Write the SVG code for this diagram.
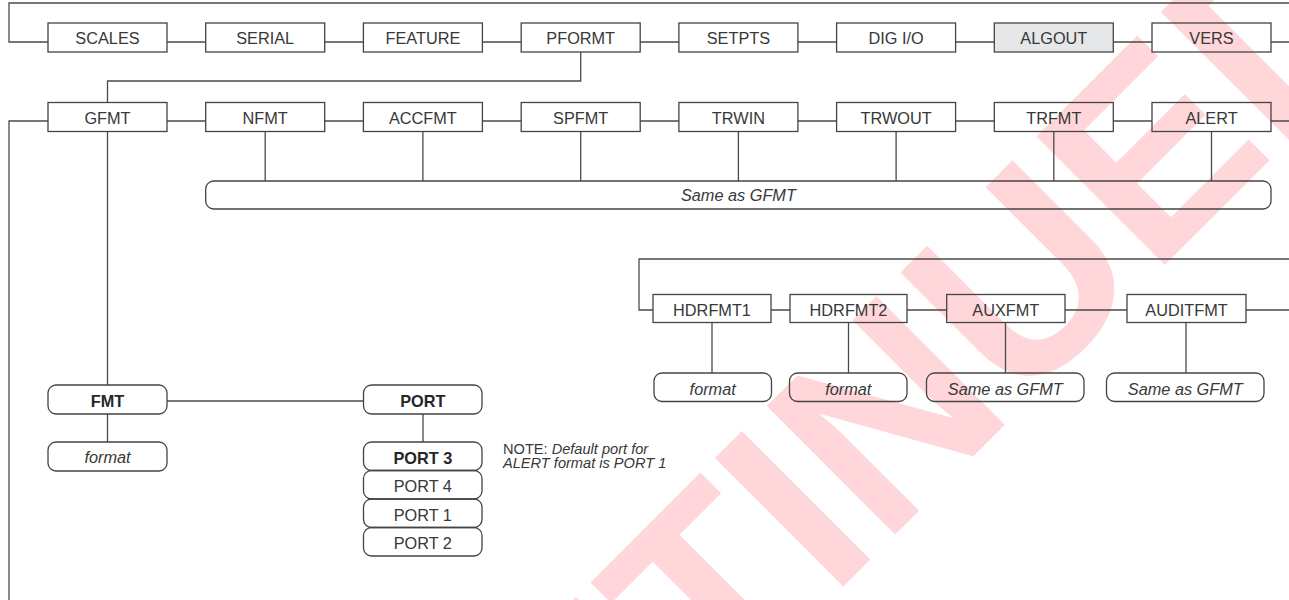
<svg xmlns="http://www.w3.org/2000/svg" width="1289" height="600" viewBox="0 0 1289 600">
<style>
.bg{fill:#fff}
.box{fill:none;stroke:#444;stroke-width:1.3}
.gray{fill:#e6e7e8;stroke:#444;stroke-width:1.3}
.ln{fill:none;stroke:#4a4a4a;stroke-width:1.3}
.t{font-family:"Liberation Sans",Arial,sans-serif;font-size:16.3px;fill:#383838;text-anchor:middle}
.i{font-style:italic}
.b{font-weight:bold;fill:#262626}
.note{font-family:"Liberation Sans",Arial,sans-serif;font-size:14.6px;fill:#383838}
.wm{font-family:"Liberation Sans",Arial,sans-serif;font-weight:bold;font-size:264px;fill:#ffd6d9}
</style>
<rect class="bg" x="0" y="0" width="1289" height="600"/>
<text class="wm" text-anchor="middle" transform="translate(701.2,728.5) rotate(-45)">DISCONTINUED</text>
<g id="connectors">
<path class="ln" d="M48,42 H9 V3 H1289"/>
<path class="ln" d="M167,42 H205.7 M324.7,42 H363.4 M482.4,42 H521.2 M640.2,42 H678.9 M797.9,42 H836.6 M955.6,42 H994.3 M1113.3,42 H1152 M1271,42 H1289"/>
<path class="ln" d="M580.7,52 V81 H107.5 V102.5"/>
<path class="ln" d="M48,121 H9 V600"/>
<path class="ln" d="M167,121 H205.7 M324.7,121 H363.4 M482.4,121 H521.2 M640.2,121 H678.9 M797.9,121 H836.6 M955.6,121 H994.3 M1113.3,121 H1152 M1271,121 H1289"/>
<path class="ln" d="M265.2,131.5 V181 M422.9,131.5 V181 M580.7,131.5 V181 M738.4,131.5 V181 M896.1,131.5 V181 M1053.8,131.5 V181 M1211.5,131.5 V181"/>
<path class="ln" d="M107.5,131.5 V385"/>
<path class="ln" d="M1289,259 H639 V310 H653"/>
<path class="ln" d="M771,310 H790 M907,310 H946.7 M1065,310 H1127 M1246,310 H1289"/>
<path class="ln" d="M712,323 V373 M848.5,323 V373 M1005.5,323 V373 M1186,323 V373"/>
<path class="ln" d="M167,401 H363.5"/>
<path class="ln" d="M107.5,414 V442 M423,414 V442"/>
</g>
<g id="scales"><rect class="box" x="48" y="23" width="119" height="29"/><text class="t" x="107.5" y="44">SCALES</text></g>
<g id="serial"><rect class="box" x="205.7" y="23" width="119" height="29"/><text class="t" x="265.2" y="44">SERIAL</text></g>
<g id="feature"><rect class="box" x="363.4" y="23" width="119" height="29"/><text class="t" x="422.9" y="44">FEATURE</text></g>
<g id="pformt"><rect class="box" x="521.2" y="23" width="119" height="29"/><text class="t" x="580.7" y="44">PFORMT</text></g>
<g id="setpts"><rect class="box" x="678.9" y="23" width="119" height="29"/><text class="t" x="738.4" y="44">SETPTS</text></g>
<g id="digio"><rect class="box" x="836.6" y="23" width="119" height="29"/><text class="t" x="896.1" y="44">DIG I/O</text></g>
<g id="algout"><rect class="gray" x="994.3" y="23" width="119" height="29"/><text class="t" x="1053.8" y="44">ALGOUT</text></g>
<g id="vers"><rect class="box" x="1152" y="23" width="119" height="29"/><text class="t" x="1211.5" y="44">VERS</text></g>

<g id="gfmt"><rect class="box" x="48" y="102.5" width="119" height="29"/><text class="t" x="107.5" y="123.5">GFMT</text></g>
<g id="nfmt"><rect class="box" x="205.7" y="102.5" width="119" height="29"/><text class="t" x="265.2" y="123.5">NFMT</text></g>
<g id="accfmt"><rect class="box" x="363.4" y="102.5" width="119" height="29"/><text class="t" x="422.9" y="123.5">ACCFMT</text></g>
<g id="spfmt"><rect class="box" x="521.2" y="102.5" width="119" height="29"/><text class="t" x="580.7" y="123.5">SPFMT</text></g>
<g id="trwin"><rect class="box" x="678.9" y="102.5" width="119" height="29"/><text class="t" x="738.4" y="123.5">TRWIN</text></g>
<g id="trwout"><rect class="box" x="836.6" y="102.5" width="119" height="29"/><text class="t" x="896.1" y="123.5">TRWOUT</text></g>
<g id="trfmt"><rect class="box" x="994.3" y="102.5" width="119" height="29"/><text class="t" x="1053.8" y="123.5">TRFMT</text></g>
<g id="alert"><rect class="box" x="1152" y="102.5" width="119" height="29"/><text class="t" x="1211.5" y="123.5">ALERT</text></g>

<g id="same-all"><rect class="box" x="205.7" y="181" width="1065.3" height="28" rx="8"/><text class="t i" x="738.4" y="200.5">Same as GFMT</text></g>

<g id="hdrfmt1"><rect class="box" x="653" y="294.5" width="118" height="28"/><text class="t" x="712" y="315.5">HDRFMT1</text></g>
<g id="hdrfmt2"><rect class="box" x="790" y="294.5" width="117" height="28"/><text class="t" x="848.5" y="315.5">HDRFMT2</text></g>
<g id="auxfmt"><rect class="box" x="946.7" y="294.5" width="118.3" height="28"/><text class="t" x="1005.8" y="315.5">AUXFMT</text></g>
<g id="auditfmt"><rect class="box" x="1127" y="294.5" width="119" height="28"/><text class="t" x="1186.5" y="315.5">AUDITFMT</text></g>

<g id="hdr1-format"><rect class="box" x="654" y="373" width="117.5" height="28.5" rx="8"/><text class="t i" x="712.7" y="394.5">format</text></g>
<g id="hdr2-format"><rect class="box" x="789.5" y="373" width="117.5" height="28.5" rx="8"/><text class="t i" x="848.3" y="394.5">format</text></g>
<g id="aux-same"><rect class="box" x="926.5" y="373" width="157.5" height="28.5" rx="8"/><text class="t i" x="1005.3" y="394.5">Same as GFMT</text></g>
<g id="audit-same"><rect class="box" x="1106.5" y="373" width="157.5" height="28.5" rx="8"/><text class="t i" x="1185.3" y="394.5">Same as GFMT</text></g>

<g id="fmt"><rect class="box" x="48" y="385" width="119" height="29" rx="8"/><text class="t b" x="107.5" y="407">FMT</text></g>
<g id="fmt-format"><rect class="box" x="48" y="442" width="119" height="29" rx="8"/><text class="t i" x="107.5" y="463">format</text></g>
<g id="port"><rect class="box" x="363.5" y="385" width="118.5" height="29" rx="8"/><text class="t b" x="422.8" y="407">PORT</text></g>
<g id="port3"><rect class="box" x="363.5" y="442" width="118.5" height="28.5" rx="8"/><text class="t b" x="422.8" y="463.5">PORT 3</text></g>
<g id="port4"><rect class="box" x="363.5" y="470.5" width="118.5" height="28.5" rx="8"/><text class="t" x="422.8" y="492">PORT 4</text></g>
<g id="port1"><rect class="box" x="363.5" y="499" width="118.5" height="28.5" rx="8"/><text class="t" x="422.8" y="520.5">PORT 1</text></g>
<g id="port2"><rect class="box" x="363.5" y="527.5" width="118.5" height="28.5" rx="8"/><text class="t" x="422.8" y="549">PORT 2</text></g>

<g id="note"><text class="note" x="503" y="454">NOTE: <tspan font-style="italic">Default port for</tspan></text><text class="note" x="503" y="468" font-style="italic">ALERT format is PORT 1</text></g>
</svg>
